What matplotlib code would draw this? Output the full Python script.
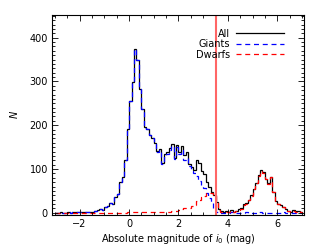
import numpy as np
import matplotlib
matplotlib.use("Agg")
import matplotlib.pyplot as plt
from matplotlib.ticker import MultipleLocator

# histogram bins: 0.1 mag from -3 to 7
edges = np.round(np.arange(-3.0, 7.0001, 0.1), 2)

# All stars (black)
n_all = [0, 0, 1, 0, 0, 1, 0, 1, 1, 2,
         3, 2, 1, 2, 1, 3, 4, 6, 8, 7,
         13, 16, 22, 21, 36, 43, 70, 82, 120, 192,
         256, 299, 374, 349, 283, 238, 195, 192, 178, 172,
         160, 142, 145, 113, 134, 138, 147, 157, 126, 155,
         140, 152, 131, 138, 112, 104, 98, 120, 113, 96,
         88, 70, 58, 48, 40, 24, 8, 5, 3, 4,
         2, 6, 3, 5, 8, 10, 20, 22, 30, 40,
         55, 68, 87, 97, 93, 78, 67, 82, 48, 26,
         21, 18, 14, 9, 5, 3, 6, 4, 5, 3]

# Giants (blue dashed)
n_giants = [0, 0, 1, 0, 0, 1, 0, 1, 1, 2,
            3, 2, 1, 2, 1, 3, 4, 6, 8, 7,
            13, 16, 22, 21, 36, 43, 70, 82, 120, 191,
            255, 298, 373, 348, 282, 237, 194, 191, 177, 170,
            158, 140, 143, 111, 132, 135, 144, 153, 122, 150,
            134, 144, 121, 126, 106, 96, 90, 84, 72, 64,
            56, 45, 33, 22, 10, 2, 1, 0, 0, 0,
            0, 1, 0, 0, 0, 0, 0, 1, 0, 0,
            0, 0, 1, 1, 0, 0, 0, 0, 0, 0,
            0, 0, 1, 0, 0, 0, 0, 0, 0, 0]

# Dwarfs (red dashed)
n_dwarfs = [0, 0, 0, 0, 0, 0, 0, 0, 0, 0,
            0, 0, 0, 0, 0, 0, 0, 0, 0, 0,
            0, 0, 0, 0, 0, 0, 0, 0, 0, 1,
            1, 1, 1, 1, 1, 1, 1, 1, 1, 2,
            2, 2, 2, 2, 2, 3, 3, 4, 4, 5,
            6, 8, 10, 10, 12, 15, 18, 27, 30, 35,
            38, 45, 46, 46, 38, 22, 6, 3, 2, 2,
            1, 4, 2, 4, 7, 9, 19, 21, 29, 39,
            54, 67, 85, 95, 92, 77, 66, 81, 47, 25,
            20, 17, 13, 8, 4, 2, 5, 3, 4, 2]

cut = 3.5
labels = ["All", "Giants", "Dwarfs"]

plt.rcParams["font.family"] = "DejaVu Sans"
plt.rcParams["font.size"] = 7

fig = plt.figure(figsize=(3.19, 2.48), dpi=100)
ax = fig.add_axes([0.163, 0.133, 0.79, 0.807])

ax.stairs(n_all, edges, color="black", lw=0.9, label=labels[0])
ax.stairs(n_giants, edges, color="#0000ff", lw=0.9, ls=(0, (4, 3)), label=labels[1])
ax.stairs(n_dwarfs, edges, color="#ff0000", lw=0.9, ls=(0, (4, 3)), label=labels[2])
ax.axvline(cut, color="#ff6666", lw=1.5)

ax.set_xlim(-3.12, 7.08)
ax.set_ylim(-5, 452)
ax.xaxis.set_major_locator(MultipleLocator(2))
ax.xaxis.set_minor_locator(MultipleLocator(0.5))
ax.yaxis.set_major_locator(MultipleLocator(100))
ax.yaxis.set_minor_locator(MultipleLocator(10))
ax.tick_params(which="both", direction="in", top=True, right=True, width=0.6)
ax.tick_params(which="major", length=4, pad=3)
ax.tick_params(which="minor", length=2)
for s in ax.spines.values():
    s.set_linewidth(0.8)

ax.set_xlabel("Absolute magnitude of $i_0$ (mag)", labelpad=2)
ax.set_ylabel("$N$")
ax.yaxis.set_label_coords(-0.125, 0.5)

leg = ax.legend(loc="upper right", frameon=False, markerfirst=False,
                handlelength=4.9, handletextpad=0.6, labelspacing=0.05,
                bbox_to_anchor=(0.955, 0.975), fontsize=7)

fig.savefig("out.png", dpi=100)
